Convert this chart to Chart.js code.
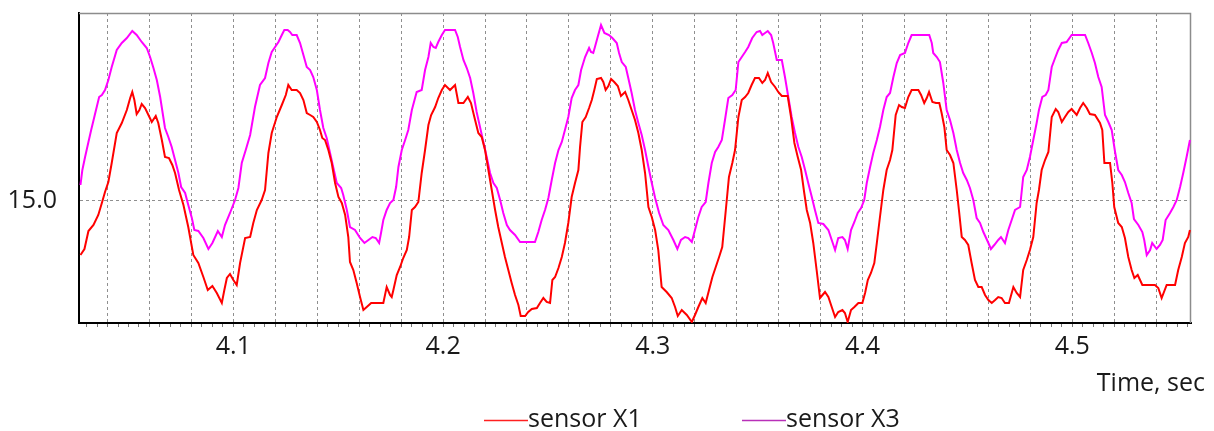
<!DOCTYPE html>
<html>
<head>
<meta charset="utf-8">
<script src="https://cdn.jsdelivr.net/npm/chart.js@4.4.1/dist/chart.umd.min.js"></script>
<style>
  html, body { margin: 0; padding: 0; background: #fff; }
  #wrap { width: 1214px; height: 431px; }
</style>
</head>
<body>
<div id="wrap"><canvas id="chart" width="1214" height="431"></canvas></div>
<script>
// series names / colours
const seriesLabels = ['sensor X1', 'sensor X3'];
const seriesColors = ['#ff0000', '#ff00ff'];
const legendColors = ['#ff2020', '#b830b8'];

// axis ranges and labels
const xMin = 4.0264, xMax = 4.5566;
const yMin = 13.78, yMax = 16.88;
const xLabelValues = [4.1, 4.2, 4.3, 4.4, 4.5];
const yLabelValues = [15.0];
const gridStepMs = 20;   // dashed grid every 0.02 s
const minorStepMs = 5;   // small ticks every 0.005 s
const xTitle = 'Time, sec';

// [time, value]
const x1Points = [
  [4.0271,14.46],[4.0290,14.52],[4.0309,14.70],[4.0333,14.76],[4.0356,14.86],[4.0373,14.98],[4.0388,15.09],[4.0404,15.19],
  [4.0420,15.38],[4.0444,15.68],[4.0468,15.78],[4.0492,15.91],[4.0508,16.03],[4.0518,16.09],[4.0528,16.01],[4.0539,15.87],
  [4.0552,15.91],[4.0563,15.97],[4.0579,15.93],[4.0595,15.86],[4.0611,15.79],[4.0630,15.85],[4.0642,15.78],[4.0659,15.61],
  [4.0674,15.44],[4.0693,15.43],[4.0709,15.36],[4.0722,15.28],[4.0741,15.11],[4.0762,14.96],[4.0785,14.74],[4.0809,14.46],
  [4.0833,14.38],[4.0857,14.24],[4.0878,14.11],[4.0900,14.15],[4.0921,14.08],[4.0945,13.98],[4.0957,14.11],[4.0969,14.23],
  [4.0984,14.27],[4.1000,14.21],[4.1016,14.16],[4.1032,14.38],[4.1056,14.63],[4.1080,14.64],[4.1095,14.78],[4.1112,14.91],
  [4.1135,15.01],[4.1151,15.11],[4.1167,15.48],[4.1183,15.68],[4.1207,15.84],[4.1231,15.96],[4.1250,16.06],[4.1262,16.16],
  [4.1278,16.11],[4.1302,16.11],[4.1318,16.08],[4.1334,16.01],[4.1350,15.88],[4.1366,15.86],[4.1381,15.84],[4.1398,15.79],
  [4.1413,15.71],[4.1424,15.63],[4.1437,15.61],[4.1453,15.51],[4.1469,15.38],[4.1485,15.18],[4.1501,15.04],[4.1517,14.98],
  [4.1533,14.86],[4.1548,14.64],[4.1556,14.39],[4.1572,14.31],[4.1588,14.18],[4.1604,14.04],[4.1620,13.91],[4.1636,13.94],
  [4.1657,13.98],[4.1715,13.98],[4.1731,14.14],[4.1747,14.06],[4.1755,14.04],[4.1763,14.11],[4.1779,14.26],[4.1795,14.34],
  [4.1810,14.43],[4.1827,14.51],[4.1838,14.64],[4.1851,14.91],[4.1866,14.94],[4.1882,14.99],[4.1898,15.28],[4.1914,15.51],
  [4.1930,15.76],[4.1943,15.86],[4.1962,15.94],[4.1977,16.03],[4.1994,16.11],[4.2009,16.16],[4.2033,16.11],[4.2057,16.16],
  [4.2073,15.98],[4.2097,15.98],[4.2118,16.04],[4.2133,15.98],[4.2149,15.84],[4.2168,15.68],[4.2184,15.64],[4.2200,15.51],
  [4.2216,15.31],[4.2232,15.11],[4.2248,14.91],[4.2263,14.74],[4.2280,14.58],[4.2295,14.44],[4.2311,14.31],[4.2327,14.18],
  [4.2343,14.06],[4.2359,13.96],[4.2370,13.85],[4.2391,13.85],[4.2406,13.89],[4.2423,13.92],[4.2447,13.93],[4.2462,13.98],
  [4.2478,14.03],[4.2494,13.99],[4.2510,13.98],[4.2521,14.21],[4.2534,14.24],[4.2550,14.33],[4.2566,14.44],[4.2581,14.58],
  [4.2597,14.78],[4.2613,15.04],[4.2629,15.18],[4.2645,15.31],[4.2653,15.54],[4.2664,15.79],[4.2680,15.84],[4.2696,15.93],
  [4.2709,16.01],[4.2721,16.11],[4.2733,16.22],[4.2753,16.23],[4.2764,16.19],[4.2775,16.11],[4.2788,16.15],[4.2801,16.22],
  [4.2816,16.19],[4.2833,16.15],[4.2848,16.05],[4.2868,16.09],[4.2883,16.01],[4.2899,15.91],[4.2915,15.81],[4.2931,15.68],
  [4.2947,15.51],[4.2963,15.28],[4.2979,14.94],[4.2995,14.84],[4.3011,14.71],[4.3026,14.51],[4.3042,14.14],[4.3066,14.09],
  [4.3090,14.03],[4.3106,13.94],[4.3119,13.85],[4.3138,13.91],[4.3162,13.86],[4.3186,13.79],[4.3201,13.86],[4.3217,13.94],
  [4.3236,14.03],[4.3252,13.98],[4.3268,14.11],[4.3284,14.24],[4.3300,14.34],[4.3316,14.44],[4.3331,14.54],[4.3348,14.91],
  [4.3363,15.24],[4.3379,15.38],[4.3392,15.51],[4.3408,15.84],[4.3424,16.01],[4.3440,16.04],[4.3455,16.08],[4.3471,16.16],
  [4.3487,16.23],[4.3506,16.23],[4.3522,16.18],[4.3535,16.21],[4.3548,16.28],[4.3564,16.19],[4.3583,16.14],[4.3598,16.09],
  [4.3615,16.05],[4.3643,16.05],[4.3659,15.84],[4.3675,15.58],[4.3691,15.44],[4.3707,15.31],[4.3722,15.08],[4.3734,14.91],
  [4.3750,14.78],[4.3765,14.58],[4.3781,14.31],[4.3797,14.03],[4.3821,14.09],[4.3837,14.04],[4.3853,13.94],[4.3869,13.84],
  [4.3884,13.89],[4.3904,13.91],[4.3916,13.88],[4.3929,13.79],[4.3945,13.91],[4.3961,13.94],[4.3980,13.98],[4.3999,13.98],
  [4.4012,14.08],[4.4025,14.21],[4.4040,14.28],[4.4056,14.38],[4.4068,14.58],[4.4083,14.84],[4.4099,15.11],[4.4115,15.31],
  [4.4131,15.41],[4.4142,15.51],[4.4158,15.86],[4.4174,15.96],[4.4187,15.94],[4.4202,15.93],[4.4218,16.04],[4.4234,16.11],
  [4.4266,16.11],[4.4279,16.06],[4.4294,15.98],[4.4306,16.03],[4.4317,16.09],[4.4333,15.99],[4.4350,15.98],[4.4366,15.98],
  [4.4377,15.88],[4.4390,15.74],[4.4401,15.51],[4.4417,15.46],[4.4433,15.38],[4.4449,15.11],[4.4461,14.88],[4.4473,14.64],
  [4.4488,14.61],[4.4504,14.56],[4.4520,14.38],[4.4536,14.21],[4.4552,14.14],[4.4568,14.14],[4.4584,14.06],[4.4600,14.01],
  [4.4616,13.98],[4.4632,14.01],[4.4647,14.04],[4.4663,14.03],[4.4679,13.98],[4.4698,13.98],[4.4719,14.14],[4.4735,14.08],
  [4.4751,14.04],[4.4766,14.31],[4.4783,14.41],[4.4798,14.51],[4.4814,14.64],[4.4830,14.98],[4.4841,15.11],[4.4854,15.31],
  [4.4870,15.41],[4.4886,15.49],[4.4902,15.84],[4.4921,15.92],[4.4933,15.89],[4.4950,15.79],[4.4965,15.84],[4.4981,15.89],
  [4.4997,15.92],[4.5021,15.86],[4.5037,15.93],[4.5052,15.98],[4.5069,15.93],[4.5084,15.87],[4.5108,15.86],[4.5132,15.78],
  [4.5143,15.71],[4.5153,15.38],[4.5180,15.38],[4.5191,15.18],[4.5200,14.94],[4.5219,14.78],[4.5236,14.74],[4.5251,14.63],
  [4.5267,14.44],[4.5283,14.31],[4.5296,14.23],[4.5312,14.26],[4.5334,14.16],[4.5394,14.16],[4.5410,14.13],[4.5426,14.03],
  [4.5450,14.16],[4.5490,14.16],[4.5505,14.31],[4.5522,14.44],[4.5537,14.58],[4.5553,14.64],[4.5561,14.71]
];

const x3Points = [
  [4.0271,15.16],[4.0280,15.31],[4.0293,15.44],[4.0309,15.59],[4.0322,15.71],[4.0337,15.84],[4.0360,16.04],[4.0373,16.06],
  [4.0388,16.11],[4.0404,16.21],[4.0420,16.34],[4.0444,16.51],[4.0468,16.58],[4.0492,16.63],[4.0518,16.70],[4.0539,16.66],
  [4.0563,16.59],[4.0587,16.53],[4.0603,16.44],[4.0619,16.33],[4.0635,16.21],[4.0651,16.04],[4.0674,15.73],[4.0690,15.64],
  [4.0706,15.54],[4.0722,15.41],[4.0738,15.28],[4.0751,15.14],[4.0770,15.08],[4.0785,14.96],[4.0802,14.83],[4.0814,14.71],
  [4.0833,14.70],[4.0857,14.63],[4.0881,14.52],[4.0900,14.58],[4.0926,14.70],[4.0945,14.64],[4.0960,14.76],[4.0984,14.88],
  [4.1008,15.01],[4.1024,15.13],[4.1040,15.38],[4.1059,15.51],[4.1080,15.66],[4.1103,15.94],[4.1127,16.16],[4.1151,16.23],
  [4.1167,16.38],[4.1183,16.49],[4.1199,16.54],[4.1215,16.59],[4.1231,16.66],[4.1243,16.71],[4.1259,16.71],[4.1270,16.69],
  [4.1281,16.66],[4.1302,16.66],[4.1318,16.58],[4.1334,16.46],[4.1350,16.34],[4.1366,16.31],[4.1381,16.24],[4.1398,16.11],
  [4.1413,15.91],[4.1429,15.73],[4.1445,15.63],[4.1461,15.48],[4.1477,15.33],[4.1493,15.18],[4.1514,15.13],[4.1524,15.06],
  [4.1541,14.91],[4.1556,14.74],[4.1580,14.71],[4.1604,14.63],[4.1625,14.58],[4.1644,14.61],[4.1663,14.64],[4.1679,14.63],
  [4.1695,14.58],[4.1704,14.68],[4.1715,14.81],[4.1731,14.91],[4.1747,14.98],[4.1763,15.01],[4.1776,15.14],[4.1787,15.34],
  [4.1803,15.51],[4.1819,15.61],[4.1834,15.71],[4.1851,15.91],[4.1874,16.09],[4.1898,16.11],[4.1914,16.31],[4.1930,16.44],
  [4.1941,16.58],[4.1954,16.54],[4.1965,16.53],[4.1977,16.59],[4.1994,16.66],[4.2009,16.71],[4.2057,16.71],[4.2070,16.64],
  [4.2081,16.54],[4.2097,16.41],[4.2113,16.33],[4.2129,16.23],[4.2144,16.08],[4.2160,15.89],[4.2176,15.74],[4.2192,15.59],
  [4.2208,15.44],[4.2224,15.28],[4.2240,15.18],[4.2256,15.13],[4.2272,15.01],[4.2287,14.88],[4.2304,14.76],[4.2319,14.71],
  [4.2343,14.66],[4.2367,14.59],[4.2438,14.59],[4.2454,14.69],[4.2470,14.81],[4.2486,14.91],[4.2502,15.03],[4.2518,15.21],
  [4.2534,15.38],[4.2550,15.51],[4.2566,15.59],[4.2581,15.71],[4.2597,15.84],[4.2613,16.03],[4.2629,16.11],[4.2645,16.16],
  [4.2658,16.31],[4.2677,16.44],[4.2696,16.53],[4.2705,16.49],[4.2716,16.48],[4.2724,16.54],[4.2737,16.64],[4.2753,16.76],
  [4.2769,16.68],[4.2791,16.66],[4.2807,16.63],[4.2828,16.58],[4.2839,16.48],[4.2852,16.39],[4.2871,16.34],[4.2883,16.23],
  [4.2899,16.08],[4.2915,15.91],[4.2931,15.78],[4.2947,15.66],[4.2963,15.51],[4.2979,15.34],[4.2995,15.18],[4.3011,15.03],
  [4.3030,14.88],[4.3050,14.76],[4.3074,14.71],[4.3098,14.61],[4.3117,14.52],[4.3134,14.61],[4.3154,14.64],[4.3169,14.63],
  [4.3186,14.59],[4.3201,14.71],[4.3217,14.84],[4.3233,14.94],[4.3252,14.99],[4.3265,15.18],[4.3281,15.38],[4.3297,15.49],
  [4.3312,15.54],[4.3329,15.61],[4.3344,15.81],[4.3360,16.03],[4.3379,16.06],[4.3395,16.11],[4.3408,16.39],[4.3424,16.44],
  [4.3440,16.49],[4.3455,16.54],[4.3474,16.63],[4.3495,16.69],[4.3511,16.70],[4.3522,16.66],[4.3535,16.68],[4.3548,16.70],
  [4.3564,16.66],[4.3574,16.58],[4.3591,16.41],[4.3615,16.41],[4.3630,16.24],[4.3646,16.04],[4.3662,15.84],[4.3678,15.68],
  [4.3694,15.54],[4.3710,15.44],[4.3726,15.31],[4.3741,15.18],[4.3758,15.04],[4.3773,14.91],[4.3789,14.78],[4.3813,14.77],
  [4.3837,14.71],[4.3853,14.61],[4.3869,14.51],[4.3884,14.63],[4.3904,14.64],[4.3916,14.61],[4.3929,14.52],[4.3945,14.71],
  [4.3961,14.79],[4.3977,14.88],[4.3993,14.93],[4.4008,15.01],[4.4020,15.18],[4.4036,15.34],[4.4051,15.48],[4.4068,15.61],
  [4.4083,15.74],[4.4099,15.91],[4.4115,16.04],[4.4131,16.08],[4.4147,16.24],[4.4163,16.38],[4.4179,16.46],[4.4202,16.48],
  [4.4218,16.58],[4.4234,16.66],[4.4318,16.66],[4.4330,16.58],[4.4337,16.48],[4.4354,16.44],[4.4369,16.39],[4.4385,16.18],
  [4.4401,15.91],[4.4417,15.81],[4.4433,15.68],[4.4449,15.51],[4.4465,15.38],[4.4480,15.28],[4.4497,15.21],[4.4512,15.13],
  [4.4528,15.01],[4.4544,14.83],[4.4560,14.78],[4.4576,14.69],[4.4600,14.58],[4.4612,14.52],[4.4628,14.56],[4.4647,14.61],
  [4.4660,14.64],[4.4679,14.58],[4.4695,14.71],[4.4711,14.81],[4.4727,14.91],[4.4751,14.94],[4.4766,15.24],[4.4783,15.31],
  [4.4798,15.44],[4.4814,15.61],[4.4830,15.78],[4.4841,15.91],[4.4857,16.04],[4.4873,16.06],[4.4886,16.11],[4.4902,16.34],
  [4.4918,16.43],[4.4933,16.51],[4.4950,16.58],[4.4973,16.59],[4.4997,16.66],[4.5061,16.66],[4.5076,16.58],[4.5093,16.48],
  [4.5108,16.38],[4.5124,16.24],[4.5140,16.14],[4.5156,15.86],[4.5172,15.79],[4.5188,15.71],[4.5204,15.49],[4.5219,15.31],
  [4.5236,15.26],[4.5251,15.19],[4.5267,15.08],[4.5283,14.98],[4.5294,14.82],[4.5315,14.76],[4.5334,14.69],[4.5343,14.61],
  [4.5355,14.46],[4.5371,14.51],[4.5381,14.58],[4.5402,14.52],[4.5418,14.56],[4.5431,14.61],[4.5445,14.81],[4.5466,14.88],
  [4.5482,14.94],[4.5498,15.01],[4.5514,15.14],[4.5529,15.28],[4.5545,15.44],[4.5561,15.61]
];

const FONT = '"Open Sans", Lato, "DejaVu Sans", sans-serif';
const FONT_SIZE = 25;
Chart.defaults.font.family = FONT;
Chart.defaults.color = '#1a1a1a';

const isGridTick = v => Math.round(v * 1000) % gridStepMs === 0;

// gray frame on top/right, bottom legend and axis title
const extras = {
  id: 'extras',
  beforeDatasetsDraw(chart) {
    const { ctx, chartArea: a } = chart;
    ctx.save();
    ctx.strokeStyle = '#8c8c8c';
    ctx.lineWidth = 1.5;
    ctx.beginPath();
    ctx.moveTo(a.left, a.top + 0.5);
    ctx.lineTo(a.right - 0.5, a.top + 0.5);
    ctx.lineTo(a.right - 0.5, a.bottom);
    ctx.stroke();
    ctx.restore();
  },
  afterDraw(chart) {
    const { ctx } = chart;
    ctx.save();
    ctx.font = FONT_SIZE + 'px ' + FONT;
    ctx.fillStyle = '#1a1a1a';
    ctx.textBaseline = 'alphabetic';
    ctx.textAlign = 'right';
    ctx.fillText(xTitle, 1205, 391);
    ctx.textAlign = 'left';
    const starts = [484, 742];
    seriesLabels.forEach((label, i) => {
      const x = starts[i];
      ctx.strokeStyle = legendColors[i];
      ctx.lineWidth = 1.5;
      ctx.beginPath();
      ctx.moveTo(x, 420.5);
      ctx.lineTo(x + 44, 420.5);
      ctx.stroke();
      ctx.fillText(label, x + 44, 427);
    });
    ctx.restore();
  }
};

new Chart(document.getElementById('chart'), {
  type: 'line',
  data: {
    datasets: [x1Points, x3Points].map((pts, i) => ({
      label: seriesLabels[i],
      data: pts.map(([x, y]) => ({ x, y })),
      borderColor: seriesColors[i],
      backgroundColor: seriesColors[i],
      borderWidth: 2,
      pointRadius: 0,
      tension: 0,
      fill: false
    }))
  },
  options: {
    responsive: false,
    animation: false,
    devicePixelRatio: 1,
    events: [],
    layout: { padding: { left: 0, top: 13, right: 23, bottom: 0 } },
    plugins: { legend: { display: false }, tooltip: { enabled: false } },
    scales: {
      x: {
        type: 'linear',
        min: xMin,
        max: xMax,
        bounds: 'data',
        afterFit: s => { s.height = 108; s.paddingLeft = 0; s.paddingRight = 0; },
        afterBuildTicks: s => {
          const ticks = [];
          const first = Math.ceil(xMin * 1000 / minorStepMs) * minorStepMs;
          for (let m = first; m <= xMax * 1000; m += minorStepMs) ticks.push({ value: m / 1000 });
          s.ticks = ticks;
        },
        grid: {
          color: c => isGridTick(c.tick.value) ? '#8f8f8f' : 'rgba(0,0,0,0)',
          lineWidth: 1,
          drawTicks: true,
          tickLength: 4,
          tickColor: '#777',
          tickBorderDash: [1, 0],
          tickWidth: 1
        },
        border: { color: '#000', width: 2, dash: [3, 3] },
        ticks: {
          autoSkip: false,
          maxRotation: 0,
          padding: 5,
          font: { size: FONT_SIZE },
          color: '#1a1a1a',
          callback: v => {
            const hit = xLabelValues.find(l => Math.abs(l - v) < 1e-6);
            return hit === undefined ? '' : hit.toFixed(1);
          }
        }
      },
      y: {
        type: 'linear',
        min: yMin,
        max: yMax,
        bounds: 'data',
        afterFit: s => { s.width = 79; s.paddingTop = 0; s.paddingBottom = 0; },
        afterBuildTicks: s => { s.ticks = yLabelValues.map(v => ({ value: v })); },
        grid: {
          color: '#8f8f8f',
          lineWidth: 1,
          drawTicks: false
        },
        border: { color: '#000', width: 2, dash: [3, 3] },
        ticks: {
          padding: 22,
          font: { size: FONT_SIZE },
          color: '#1a1a1a',
          callback: v => v.toFixed(1)
        }
      }
    }
  },
  plugins: [extras]
});
</script>
</body>
</html>
